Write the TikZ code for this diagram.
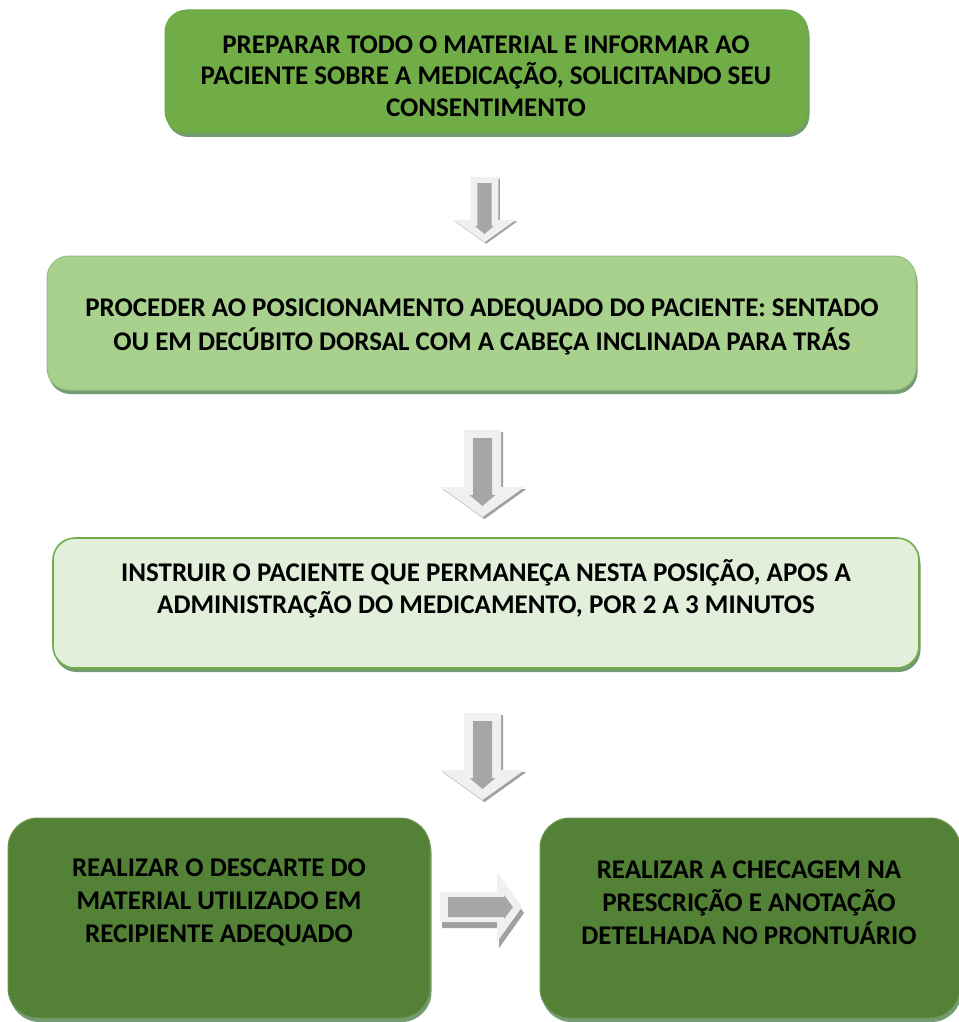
\documentclass[tikz,border=0pt]{standalone}
\usepackage{fontspec}
\setmainfont{Carlito}
\usetikzlibrary{shadows}
\definecolor{gA}{HTML}{70AD47}
\definecolor{gB}{HTML}{A9D18E}
\definecolor{gC}{HTML}{E2EFDA}
\definecolor{gD}{HTML}{538135}
\definecolor{gBorder}{HTML}{6EA843}
\definecolor{arrLight}{HTML}{F0F0F0}
\definecolor{arrDark}{HTML}{A6A6A6}
\definecolor{arrShadow}{HTML}{A0A0A0}
\tikzset{
  box/.style={rounded corners=22pt, draw=gBorder, line width=1pt,
    drop shadow={shadow xshift=1.5pt, shadow yshift=-4pt, fill=black!70!green, opacity=0.55},
    inner sep=0pt},
  boxtext/.style={align=center, font=\fontsize{27}{33}\selectfont\bfseries, text=black},
  pics/downarrow/.style={code={
    \fill[arrShadow] (-16.5,2) -- (20.5,2) -- (20.5,59) -- (44,59) -- (2,89) -- (-40,59) -- (-16.5,59) -- cycle;
    \fill[arrLight] (-18.5,0) -- (18.5,0) -- (18.5,57) -- (42,57) -- (0,87) -- (-42,57) -- (-18.5,57) -- cycle;
    \fill[arrDark] (-9.5,8) -- (9.5,8) -- (9.5,65) -- (13,65) -- (0,76) -- (-13,65) -- (-9.5,65) -- cycle;
  }},
  pics/rightarrow/.style={code={
    \fill[arrShadow] (2,-9) -- (59,-9) -- (59,-29) -- (84,6) -- (59,41) -- (59,21) -- (2,21) -- cycle;
    \fill[arrLight] (0,-15) -- (57,-15) -- (57,-35) -- (82,0) -- (57,35) -- (57,15) -- (0,15) -- cycle;
    \fill[arrDark] (8,-10) -- (64,-10) -- (64,-12) -- (73,0) -- (64,12) -- (64,10) -- (8,10) -- cycle;
  }}
}
\begin{document}
\begin{tikzpicture}[x=1pt,y=-1pt]
\useasboundingbox (0,0) rectangle (958,1022);
\fill[white] (0,0) rectangle (958,1022);

\node[box, fill=gA, minimum width=643pt, minimum height=123pt] (b1) at (486.5,71.5) {};
\node[box, fill=gB, draw=gB!90!black, minimum width=869pt, minimum height=134pt] (b2) at (481.5,323) {};
\node[box, fill=gC, draw=gA, line width=1.6pt, minimum width=866pt, minimum height=130pt] (b3) at (486,603) {};
\node[box, fill=gD, draw=gD!85!white, rounded corners=30pt, minimum width=422pt, minimum height=200pt] (b4) at (219,918) {};
\node[box, fill=gD, draw=gD!85!white, rounded corners=30pt, minimum width=420pt, minimum height=200pt] (b5) at (750,918) {};

\node[boxtext, font=\fontsize{27}{31.5}\selectfont\bfseries] (t1) at (486,76) {PREPARAR TODO O MATERIAL E INFORMAR AO\\PACIENTE SOBRE A MEDICAÇÃO, SOLICITANDO SEU\\CONSENTIMENTO};
\node[boxtext, font=\fontsize{27}{34}\selectfont\bfseries] (t2) at (482,327) {PROCEDER AO POSICIONAMENTO ADEQUADO DO PACIENTE: SENTADO\\OU EM DECÚBITO DORSAL COM A CABEÇA INCLINADA PARA TRÁS};
\node[boxtext, font=\fontsize{27}{32}\selectfont\bfseries] (t3) at (486,589) {INSTRUIR O PACIENTE QUE PERMANEÇA NESTA POSIÇÃO, APOS A\\ADMINISTRAÇÃO DO MEDICAMENTO, POR 2 A 3 MINUTOS};
\node[boxtext] (t4) at (219,902) {REALIZAR O DESCARTE DO\\MATERIAL UTILIZADO EM\\RECIPIENTE ADEQUADO};
\node[boxtext] (t5) at (749,903) {REALIZAR A CHECAGEM NA\\PRESCRIÇÃO E ANOTAÇÃO\\DETELHADA NO PRONTUÁRIO};

\coordinate (a1) at (b1.south |- 0,177);
\coordinate (a2) at (482.5,430);
\coordinate (a3) at (482.5,713);
\coordinate (a4) at (440,907);
\pic[scale=0.75] at ([xshift=-2pt]a1) {downarrow};
\pic at (a2) {downarrow};
\pic at (a3) {downarrow};
\pic at (a4) {rightarrow};
\end{tikzpicture}
\end{document}
